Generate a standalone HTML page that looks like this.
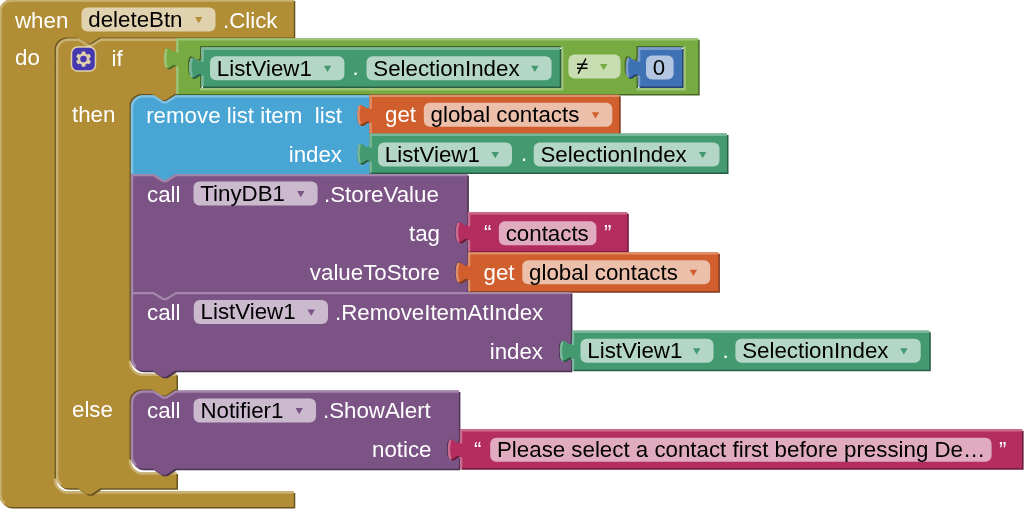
<!DOCTYPE html>
<html><head><meta charset="utf-8"><style>
html,body{margin:0;padding:0;background:#fff;width:1024px;height:509px;overflow:hidden}
svg{display:block;will-change:transform}
text{font-family:"Liberation Sans",sans-serif;font-size:22.3px}
</style></head><body>
<svg width="1024" height="509" viewBox="0 0 1024 509">
<g transform="translate(-0.6,-0.6)">
<path d="M 0,12 A 12,12 0 0,1 12,0 H 294.4 V 38.1 H 100.2 l -9,6 -4.5,0 -9,-6 h -10.5 a 12,12 0 0,0 -12,12 V 480 a 12,12 0 0,0 12,12 H 294.4 v 15.6 H 12 a 12,12 0 0,1 -12,-12 z" fill="#6a5520" fill-rule="evenodd" transform="translate(1.5,1.5)"/>
<path d="M 0,12 A 12,12 0 0,1 12,0 H 294.4 V 38.1 H 100.2 l -9,6 -4.5,0 -9,-6 h -10.5 a 12,12 0 0,0 -12,12 V 480 a 12,12 0 0,0 12,12 H 294.4 v 15.6 H 12 a 12,12 0 0,1 -12,-12 z" fill="#b18e35" fill-rule="evenodd"/>
<path d="M 1.1,12 A 10.9,10.9 0 0,1 12,1.1 H 293.3 M 55.53,480 A 13.1,13.1 0 0,0 67.2,493.1 H 293.3 M 4.29254,503.307 A 10.9,10.9 0 0,1 1.1,495.6 V 12" fill="none" stroke="#c8b072" stroke-width="2.4" stroke-linecap="round"/>
</g>
<text x="15" y="27.5" fill="#fff" text-anchor="start">when</text>
<rect x="81.5" y="7.5" width="134" height="24" rx="6" ry="6" fill="#e0d2ae"/>
<text x="88.3" y="26.8" fill="#000">deleteBtn</text>
<path d="M 195,17 h 7.4 l -3.7,6.2 z" fill="#B18E35"/>
<text x="223" y="27.5" fill="#fff" text-anchor="start">.Click</text>
<text x="15" y="64.6" fill="#fff" text-anchor="start">do</text>
<g transform="translate(56,38.6)">
<path d="M 0,12 A 12,12 0 0,1 12,0 H 22.5 l 9,6 4.5,0 9,-6 H 120.5 V 0 v 8.75 c 0,15 -12,-12 -12,11.25 s 12,-3.75 12,11.25 V 55.4 H 118.5 l -9,6 -4.5,0 -9,-6 h -10.5 a 12,12 0 0,0 -12,12 V 323.15 a 12,12 0 0,0 12,12 H 120.5 v 15.75 H 118.5 l -9,6 -4.5,0 -9,-6 h -10.5 a 12,12 0 0,0 -12,12 V 421.9 a 12,12 0 0,0 12,12 H 120.5 v 15.75 H 44.25 l -9,6 -4.5,0 -9,-6 H 12 a 12,12 0 0,1 -12,-12 z" fill="#6a5520" fill-rule="evenodd" transform="translate(1.5,1.5)"/>
<path d="M 0,12 A 12,12 0 0,1 12,0 H 22.5 l 9,6 4.5,0 9,-6 H 120.5 V 0 v 8.75 c 0,15 -12,-12 -12,11.25 s 12,-3.75 12,11.25 V 55.4 H 118.5 l -9,6 -4.5,0 -9,-6 h -10.5 a 12,12 0 0,0 -12,12 V 323.15 a 12,12 0 0,0 12,12 H 120.5 v 15.75 H 118.5 l -9,6 -4.5,0 -9,-6 h -10.5 a 12,12 0 0,0 -12,12 V 421.9 a 12,12 0 0,0 12,12 H 120.5 v 15.75 H 44.25 l -9,6 -4.5,0 -9,-6 H 12 a 12,12 0 0,1 -12,-12 z" fill="#b18e35" fill-rule="evenodd"/>
<path d="M 1.1,12 A 10.9,10.9 0 0,1 12,1.1 H 22.5 l 9.75,6 3,0 9.75,-6 H 119.4 M 113,30.2 l 5.52,-3.15 M 73.83,323.15 A 13.1,13.1 0 0,0 85.5,336.25 H 119.4 M 73.83,421.9 A 13.1,13.1 0 0,0 85.5,435 H 119.4 M 4.29254,445.357 A 10.9,10.9 0 0,1 1.1,437.65 V 12" fill="none" stroke="#c8b072" stroke-width="2.4" stroke-linecap="round"/>
</g>
<g transform="translate(71.5,47.1)" opacity="0.6"><g transform="scale(1.5)"><rect rx="4" ry="4" width="16" height="16" fill="#00f" stroke="#fff" stroke-width="1"/><path fill="#fff" d="m4.203,7.296 0,1.368 -0.92,0.677 -0.11,0.41 0.9,1.559 0.41,0.11 1.043,-0.457 1.187,0.683 0.127,1.134 0.3,0.3 1.8,0 0.3,-0.299 0.127,-1.138 1.185,-0.682 1.046,0.458 0.409,-0.11 0.9,-1.559 -0.11,-0.41 -0.92,-0.677 0,-1.366 0.92,-0.677 0.11,-0.41 -0.9,-1.559 -0.409,-0.109 -1.046,0.458 -1.185,-0.682 -0.127,-1.138 -0.3,-0.299 -1.8,0 -0.3,0.3 -0.126,1.135 -1.187,0.682 -1.043,-0.457 -0.41,0.11 -0.899,1.559 0.108,0.409z"/><circle r="2.7" cx="8" cy="8" fill="#00f" stroke="#fff" stroke-width="1"/></g></g>
<text x="111.6" y="66.1" fill="#fff" text-anchor="start">if</text>
<text x="72" y="121.5" fill="#fff" text-anchor="start">then</text>
<text x="72" y="417" fill="#fff" text-anchor="start">else</text>
<g transform="translate(176.25,38.25)">
<path d="M 0,0 H 521.95 V 55.75 H 0 V 31.25 c 0,-15 -12,12 -12,-11.25 s 12,3.75 12,-11.25 z M 384.95,7.85 H 23.75 V 16.6 c 0,15 -12,-12 -12,11.25 s 12,-3.75 12,11.25 V 49.85 H 384.95 z M 507.25,7.85 H 460.25 V 16.6 c 0,15 -12,-12 -12,11.25 s 12,-3.75 12,11.25 V 49.85 H 507.25 z" fill="#476727" fill-rule="evenodd" transform="translate(1.5,1.5)"/>
<path d="M 0,0 H 521.95 V 55.75 H 0 V 31.25 c 0,-15 -12,12 -12,-11.25 s 12,3.75 12,-11.25 z M 384.95,7.85 H 23.75 V 16.6 c 0,15 -12,-12 -12,11.25 s 12,-3.75 12,11.25 V 49.85 H 384.95 z M 507.25,7.85 H 460.25 V 16.6 c 0,15 -12,-12 -12,11.25 s 12,-3.75 12,11.25 V 49.85 H 507.25 z" fill="#77ab41" fill-rule="evenodd"/>
<path d="M 1.1,1.1 H 520.85 M 1.1,54.65 V 29 m -11.04,-0.75 q -2.28,-8.25 0,-16.5 m 11.04,1.5 V 1.1 H 2.2 M 386.05,8.95 V 50.95 H 24.85 M 508.35,8.95 V 50.95 H 461.35" fill="none" stroke="#a0c47a" stroke-width="2.4" stroke-linecap="round"/>
</g>
<rect x="568.4" y="54.5" width="52.1" height="24" rx="6" ry="6" fill="#c9ddb3"/>
<text x="575.2" y="73.8" fill="#000"></text>
<path d="M 600,64 h 7.4 l -3.7,6.2 z" fill="#77AB41"/>
<path d="M 577,64.2 H 587.5 M 577,68.3 H 587.5 M 585.9,58.5 L 578.2,73.6" stroke="#000" stroke-width="1.5" fill="none"/>
<g transform="translate(201.5,47.6)">
<path d="M 0,0 H 358.2 V 39 H 0 V 31.25 c 0,-15 -12,12 -12,-11.25 s 12,3.75 12,-11.25 z" fill="#285c43" fill-rule="evenodd" transform="translate(1.5,1.5)"/>
<path d="M 0,0 H 358.2 V 39 H 0 V 31.25 c 0,-15 -12,12 -12,-11.25 s 12,3.75 12,-11.25 z" fill="#439970" fill-rule="evenodd"/>
<path d="M 1.1,1.1 H 357.1 M 1.1,37.9 V 29 m -11.04,-0.75 q -2.28,-8.25 0,-16.5 m 11.04,1.5 V 1.1 H 2.2" fill="none" stroke="#7bb89b" stroke-width="2.4" stroke-linecap="round"/>
</g>
<rect x="210" y="56.35" width="134.4" height="24" rx="6" ry="6" fill="#b4d6c6"/>
<text x="216.8" y="75.65" fill="#000">ListView1</text>
<path d="M 323.9,65.85 h 7.4 l -3.7,6.2 z" fill="#439970"/>
<text x="352.5" y="75.1" fill="#fff" text-anchor="start">.</text>
<rect x="366.5" y="56.35" width="185.1" height="24" rx="6" ry="6" fill="#b4d6c6"/>
<text x="373.3" y="75.65" fill="#000">SelectionIndex</text>
<path d="M 531.1,65.85 h 7.4 l -3.7,6.2 z" fill="#439970"/>
<g transform="translate(638,47.6)">
<path d="M 0,0 H 44 V 39 H 0 V 31.25 c 0,-15 -12,12 -12,-11.25 s 12,3.75 12,-11.25 z" fill="#26446d" fill-rule="evenodd" transform="translate(1.5,1.5)"/>
<path d="M 0,0 H 44 V 39 H 0 V 31.25 c 0,-15 -12,12 -12,-11.25 s 12,3.75 12,-11.25 z" fill="#3f71b5" fill-rule="evenodd"/>
<path d="M 1.1,1.1 H 42.9 M 1.1,37.9 V 29 m -11.04,-0.75 q -2.28,-8.25 0,-16.5 m 11.04,1.5 V 1.1 H 2.2" fill="none" stroke="#799ccb" stroke-width="2.4" stroke-linecap="round"/>
</g>
<rect x="646" y="55.6" width="27.6" height="24" rx="6" ry="6" fill="#b2c6e1"/>
<text x="652.8" y="74.9" fill="#000">0</text>
<g transform="translate(130.9,95.25)">
<path d="M 0,12 A 12,12 0 0,1 12,0 H 22.5 l 9,6 4.5,0 9,-6 H 238.4 V 0 v 8.75 c 0,15 -12,-12 -12,11.25 s 12,-3.75 12,11.25 V 39 V 39 v 8.75 c 0,15 -12,-12 -12,11.25 s 12,-3.75 12,11.25 V 78.75 H 44.25 l -9,6 -4.5,0 -9,-6 H 0 z" fill="#2c647f" fill-rule="evenodd" transform="translate(1.5,1.5)"/>
<path d="M 0,12 A 12,12 0 0,1 12,0 H 22.5 l 9,6 4.5,0 9,-6 H 238.4 V 0 v 8.75 c 0,15 -12,-12 -12,11.25 s 12,-3.75 12,11.25 V 39 V 39 v 8.75 c 0,15 -12,-12 -12,11.25 s 12,-3.75 12,11.25 V 78.75 H 44.25 l -9,6 -4.5,0 -9,-6 H 0 z" fill="#49a6d4" fill-rule="evenodd"/>
<path d="M 1.1,12 A 10.9,10.9 0 0,1 12,1.1 H 22.5 l 9.75,6 3,0 9.75,-6 H 237.3 M 230.9,30.2 l 5.52,-3.15 M 230.9,69.2 l 5.52,-3.15 M 1.1,77.65 V 12" fill="none" stroke="#80c1e1" stroke-width="2.4" stroke-linecap="round"/>
</g>
<text x="146.2" y="122.75" fill="#fff" text-anchor="start">remove list item</text>
<text x="342" y="122.75" fill="#fff" text-anchor="end">list</text>
<text x="342" y="161.75" fill="#fff" text-anchor="end">index</text>
<g transform="translate(369.5,94.8)">
<path d="M 0,0 H 249.7 V 39 H 0 V 31.25 c 0,-15 -12,12 -12,-11.25 s 12,3.75 12,-11.25 z" fill="#7d391b" fill-rule="evenodd" transform="translate(1.5,1.5)"/>
<path d="M 0,0 H 249.7 V 39 H 0 V 31.25 c 0,-15 -12,12 -12,-11.25 s 12,3.75 12,-11.25 z" fill="#d05f2d" fill-rule="evenodd"/>
<path d="M 1.1,1.1 H 248.6 M 1.1,37.9 V 29 m -11.04,-0.75 q -2.28,-8.25 0,-16.5 m 11.04,1.5 V 1.1 H 2.2" fill="none" stroke="#de8f6c" stroke-width="2.4" stroke-linecap="round"/>
</g>
<text x="385" y="122.3" fill="#fff" text-anchor="start">get</text>
<rect x="423.8" y="102.8" width="188.5" height="24" rx="6" ry="6" fill="#ecbfab"/>
<text x="430.6" y="122.1" fill="#000">global contacts</text>
<path d="M 591.8,112.3 h 7.4 l -3.7,6.2 z" fill="#D05F2D"/>
<g transform="translate(369.5,133.6)">
<path d="M 0,0 H 357.5 V 39 H 0 V 31.25 c 0,-15 -12,12 -12,-11.25 s 12,3.75 12,-11.25 z" fill="#285c43" fill-rule="evenodd" transform="translate(1.5,1.5)"/>
<path d="M 0,0 H 357.5 V 39 H 0 V 31.25 c 0,-15 -12,12 -12,-11.25 s 12,3.75 12,-11.25 z" fill="#439970" fill-rule="evenodd"/>
<path d="M 1.1,1.1 H 356.4 M 1.1,37.9 V 29 m -11.04,-0.75 q -2.28,-8.25 0,-16.5 m 11.04,1.5 V 1.1 H 2.2" fill="none" stroke="#7bb89b" stroke-width="2.4" stroke-linecap="round"/>
</g>
<rect x="378" y="142.6" width="134" height="24" rx="6" ry="6" fill="#b4d6c6"/>
<text x="384.8" y="161.9" fill="#000">ListView1</text>
<path d="M 491.5,152.1 h 7.4 l -3.7,6.2 z" fill="#439970"/>
<text x="521" y="161.1" fill="#fff" text-anchor="start">.</text>
<rect x="533.7" y="142.6" width="185.8" height="24" rx="6" ry="6" fill="#b4d6c6"/>
<text x="540.5" y="161.9" fill="#000">SelectionIndex</text>
<path d="M 699,152.1 h 7.4 l -3.7,6.2 z" fill="#439970"/>
<g transform="translate(130.9,174)">
<path d="M 0,0 H 22.5 l 9,6 4.5,0 9,-6 H 336.5 V 38.5 V 38.5 v 8.75 c 0,15 -12,-12 -12,11.25 s 12,-3.75 12,11.25 V 78 V 78 v 8.75 c 0,15 -12,-12 -12,11.25 s 12,-3.75 12,11.25 V 118 H 44.25 l -9,6 -4.5,0 -9,-6 H 0 z" fill="#4a3250" fill-rule="evenodd" transform="translate(1.5,1.5)"/>
<path d="M 0,0 H 22.5 l 9,6 4.5,0 9,-6 H 336.5 V 38.5 V 38.5 v 8.75 c 0,15 -12,-12 -12,11.25 s 12,-3.75 12,11.25 V 78 V 78 v 8.75 c 0,15 -12,-12 -12,11.25 s 12,-3.75 12,11.25 V 118 H 44.25 l -9,6 -4.5,0 -9,-6 H 0 z" fill="#7c5385" fill-rule="evenodd"/>
<path d="M 1.1,1.1 H 22.5 l 9.75,6 3,0 9.75,-6 H 335.4 M 329,68.7 l 5.52,-3.15 M 329,108.2 l 5.52,-3.15 M 1.1,116.9 V 1.1" fill="none" stroke="#a387aa" stroke-width="2.4" stroke-linecap="round"/>
</g>
<text x="147" y="201.5" fill="#fff" text-anchor="start">call</text>
<rect x="193.5" y="181.5" width="124.1" height="24" rx="6" ry="6" fill="#cbbace"/>
<text x="200.3" y="200.8" fill="#000">TinyDB1</text>
<path d="M 297.1,191 h 7.4 l -3.7,6.2 z" fill="#7C5385"/>
<text x="324" y="201.5" fill="#fff" text-anchor="start">.StoreValue</text>
<text x="440" y="240.5" fill="#fff" text-anchor="end">tag</text>
<text x="440" y="279.5" fill="#fff" text-anchor="end">valueToStore</text>
<g transform="translate(468,212.2)">
<path d="M 0,0 H 159.3 V 39 H 0 V 31.25 c 0,-15 -12,12 -12,-11.25 s 12,3.75 12,-11.25 z" fill="#6b1b38" fill-rule="evenodd" transform="translate(1.5,1.5)"/>
<path d="M 0,0 H 159.3 V 39 H 0 V 31.25 c 0,-15 -12,12 -12,-11.25 s 12,3.75 12,-11.25 z" fill="#b32d5e" fill-rule="evenodd"/>
<path d="M 1.1,1.1 H 158.2 M 1.1,37.9 V 29 m -11.04,-0.75 q -2.28,-8.25 0,-16.5 m 11.04,1.5 V 1.1 H 2.2" fill="none" stroke="#ca6c8e" stroke-width="2.4" stroke-linecap="round"/>
</g>
<text x="484" y="240" fill="#fff" text-anchor="start">“</text>
<rect x="498.9" y="221.2" width="97.5" height="24" rx="6" ry="6" fill="#e1abbf"/>
<text x="505.7" y="240.5" fill="#000">contacts</text>
<text x="604" y="240" fill="#fff" text-anchor="start">”</text>
<g transform="translate(468,252.3)">
<path d="M 0,0 H 250.4 V 39 H 0 V 31.25 c 0,-15 -12,12 -12,-11.25 s 12,3.75 12,-11.25 z" fill="#7d391b" fill-rule="evenodd" transform="translate(1.5,1.5)"/>
<path d="M 0,0 H 250.4 V 39 H 0 V 31.25 c 0,-15 -12,12 -12,-11.25 s 12,3.75 12,-11.25 z" fill="#d05f2d" fill-rule="evenodd"/>
<path d="M 1.1,1.1 H 249.3 M 1.1,37.9 V 29 m -11.04,-0.75 q -2.28,-8.25 0,-16.5 m 11.04,1.5 V 1.1 H 2.2" fill="none" stroke="#de8f6c" stroke-width="2.4" stroke-linecap="round"/>
</g>
<text x="483.5" y="279.8" fill="#fff" text-anchor="start">get</text>
<rect x="522.3" y="260.3" width="187.9" height="24" rx="6" ry="6" fill="#ecbfab"/>
<text x="529.1" y="279.6" fill="#000">global contacts</text>
<path d="M 689.7,269.8 h 7.4 l -3.7,6.2 z" fill="#D05F2D"/>
<g transform="translate(130.9,292)">
<path d="M 0,0 H 22.5 l 9,6 4.5,0 9,-6 H 440 V 38.75 V 38.75 v 8.75 c 0,15 -12,-12 -12,11.25 s 12,-3.75 12,11.25 V 78.75 H 44.25 l -9,6 -4.5,0 -9,-6 H 12 a 12,12 0 0,1 -12,-12 z" fill="#4a3250" fill-rule="evenodd" transform="translate(1.5,1.5)"/>
<path d="M 0,0 H 22.5 l 9,6 4.5,0 9,-6 H 440 V 38.75 V 38.75 v 8.75 c 0,15 -12,-12 -12,11.25 s 12,-3.75 12,11.25 V 78.75 H 44.25 l -9,6 -4.5,0 -9,-6 H 12 a 12,12 0 0,1 -12,-12 z" fill="#7c5385" fill-rule="evenodd"/>
<path d="M 1.1,1.1 H 22.5 l 9.75,6 3,0 9.75,-6 H 438.9 M 432.5,68.95 l 5.52,-3.15 M 4.29254,74.4575 A 10.9,10.9 0 0,1 1.1,66.75 V 1.1" fill="none" stroke="#a387aa" stroke-width="2.4" stroke-linecap="round"/>
</g>
<text x="147" y="319.5" fill="#fff" text-anchor="start">call</text>
<rect x="193.8" y="300" width="134.2" height="24" rx="6" ry="6" fill="#cbbace"/>
<text x="200.6" y="319.3" fill="#000">ListView1</text>
<path d="M 307.5,309.5 h 7.4 l -3.7,6.2 z" fill="#7C5385"/>
<text x="335" y="319.5" fill="#fff" text-anchor="start">.RemoveItemAtIndex</text>
<text x="543" y="358.5" fill="#fff" text-anchor="end">index</text>
<g transform="translate(572,330.7)">
<path d="M 0,0 H 357.3 V 39 H 0 V 31.25 c 0,-15 -12,12 -12,-11.25 s 12,3.75 12,-11.25 z" fill="#285c43" fill-rule="evenodd" transform="translate(1.5,1.5)"/>
<path d="M 0,0 H 357.3 V 39 H 0 V 31.25 c 0,-15 -12,12 -12,-11.25 s 12,3.75 12,-11.25 z" fill="#439970" fill-rule="evenodd"/>
<path d="M 1.1,1.1 H 356.2 M 1.1,37.9 V 29 m -11.04,-0.75 q -2.28,-8.25 0,-16.5 m 11.04,1.5 V 1.1 H 2.2" fill="none" stroke="#7bb89b" stroke-width="2.4" stroke-linecap="round"/>
</g>
<rect x="580.5" y="338.7" width="133" height="24" rx="6" ry="6" fill="#b4d6c6"/>
<text x="587.3" y="358" fill="#000">ListView1</text>
<path d="M 693,348.2 h 7.4 l -3.7,6.2 z" fill="#439970"/>
<text x="722.5" y="358.2" fill="#fff" text-anchor="start">.</text>
<rect x="735.4" y="338.7" width="185.3" height="24" rx="6" ry="6" fill="#b4d6c6"/>
<text x="742.2" y="358" fill="#000">SelectionIndex</text>
<path d="M 900.2,348.2 h 7.4 l -3.7,6.2 z" fill="#439970"/>
<g transform="translate(130.9,390.5)">
<path d="M 0,12 A 12,12 0 0,1 12,0 H 22.5 l 9,6 4.5,0 9,-6 H 328 V 38.8 V 38.8 v 8.75 c 0,15 -12,-12 -12,11.25 s 12,-3.75 12,11.25 V 78.25 H 44.25 l -9,6 -4.5,0 -9,-6 H 12 a 12,12 0 0,1 -12,-12 z" fill="#4a3250" fill-rule="evenodd" transform="translate(1.5,1.5)"/>
<path d="M 0,12 A 12,12 0 0,1 12,0 H 22.5 l 9,6 4.5,0 9,-6 H 328 V 38.8 V 38.8 v 8.75 c 0,15 -12,-12 -12,11.25 s 12,-3.75 12,11.25 V 78.25 H 44.25 l -9,6 -4.5,0 -9,-6 H 12 a 12,12 0 0,1 -12,-12 z" fill="#7c5385" fill-rule="evenodd"/>
<path d="M 1.1,12 A 10.9,10.9 0 0,1 12,1.1 H 22.5 l 9.75,6 3,0 9.75,-6 H 326.9 M 320.5,69 l 5.52,-3.15 M 4.29254,73.9575 A 10.9,10.9 0 0,1 1.1,66.25 V 12" fill="none" stroke="#a387aa" stroke-width="2.4" stroke-linecap="round"/>
</g>
<text x="147" y="418" fill="#fff" text-anchor="start">call</text>
<rect x="193.6" y="398.5" width="122.4" height="24" rx="6" ry="6" fill="#cbbace"/>
<text x="200.4" y="417.8" fill="#000">Notifier1</text>
<path d="M 295.5,408 h 7.4 l -3.7,6.2 z" fill="#7C5385"/>
<text x="323" y="418" fill="#fff" text-anchor="start">.ShowAlert</text>
<text x="431.5" y="457" fill="#fff" text-anchor="end">notice</text>
<g transform="translate(460,429.3)">
<path d="M 0,0 H 562.1 V 39 H 0 V 31.25 c 0,-15 -12,12 -12,-11.25 s 12,3.75 12,-11.25 z" fill="#6b1b38" fill-rule="evenodd" transform="translate(1.5,1.5)"/>
<path d="M 0,0 H 562.1 V 39 H 0 V 31.25 c 0,-15 -12,12 -12,-11.25 s 12,3.75 12,-11.25 z" fill="#b32d5e" fill-rule="evenodd"/>
<path d="M 1.1,1.1 H 561 M 1.1,37.9 V 29 m -11.04,-0.75 q -2.28,-8.25 0,-16.5 m 11.04,1.5 V 1.1 H 2.2" fill="none" stroke="#ca6c8e" stroke-width="2.4" stroke-linecap="round"/>
</g>
<text x="474" y="457.1" fill="#fff" text-anchor="start">“</text>
<rect x="490.2" y="437.8" width="501.4" height="24" rx="6" ry="6" fill="#e1abbf"/>
<text x="497" y="457.1" fill="#000">Please select a contact first before pressing De…</text>
<text x="999" y="457.1" fill="#fff" text-anchor="start">”</text>
</svg>
</body></html>
